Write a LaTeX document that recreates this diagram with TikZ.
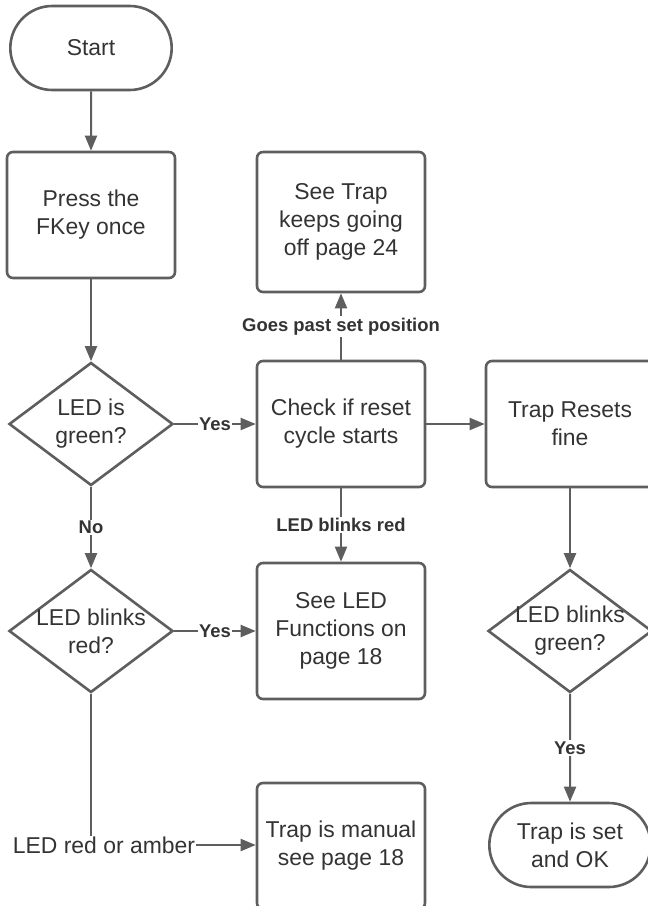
\documentclass[tikz,border=0pt]{standalone}
\usepackage{fontspec}
\setmainfont{Liberation Sans}
\usepackage{tikz}
\usetikzlibrary{shapes.geometric, shapes.misc}
\usetikzlibrary{arrows.meta}

\definecolor{flowline}{RGB}{94,94,94}
\definecolor{flowtext}{RGB}{51,51,51}

\begin{document}
\begin{tikzpicture}[->,>={Triangle[length=15bp,width=12bp]},line width=2bp,
                    color=flowline,x=1bp,y=1bp]
\tikzstyle{every node}=[text=flowtext,font=\fontsize{23}{28}\selectfont,align=center]
\tikzstyle{terminal}=[rounded rectangle,draw=flowline,line width=2.6bp,minimum width=168bp,minimum height=84bp]
\tikzstyle{process}=[rectangle,rounded corners=6bp,draw=flowline,line width=2.6bp,minimum width=168bp,minimum height=126bp]
\tikzstyle{decision}=[diamond,draw=flowline,line width=2.6bp,minimum width=164bp,minimum height=123bp,shape aspect=1.33,inner sep=-5bp]
\tikzstyle{answer}=[fill=white,inner sep=1.5bp,font=\bfseries\fontsize{18.5}{21}\selectfont]

  \useasboundingbox (0,0) rectangle (648,-906);
  \clip (0,0) rectangle (648,-906);

        % left column
        \node[terminal]                                          (start)      at (91,-48)          {Start};
        \node[process, node distance=167bp]                      (press)      [below of=start]     {Press the\\FKey once};
        \node[decision, node distance=209bp]                     (green)      [below of=press]     {LED is\\green?};
        \node[decision, node distance=207bp]                     (red)        [below of=green]     {LED blinks\\red?};
        \node[inner sep=0pt, node distance=214bp, xshift=13bp]   (amber)      [below of=red]       {LED red or amber};

        % middle column
        \node[process, node distance=250bp]                      (check)      [right of=green]     {Check if reset\\cycle starts};
        \node[process, minimum height=140bp, node distance=202bp] (keeps)     [above of=check]     {See Trap\\keeps going\\off page 24};
        \node[process, minimum height=136bp, node distance=250bp] (functions) [right of=red]       {See LED\\Functions on\\page 18};
        \node[process, node distance=215bp]                      (manual)     [below of=functions] {Trap is manual\\see page 18};

        % right column
        \node[process, node distance=229bp]                      (resets)     [right of=check]     {Trap Resets\\fine};
        \node[decision, node distance=207bp]                     (blinkgreen) [below of=resets]    {LED blinks\\green?};
        \node[terminal, node distance=214bp]                     (setok)      [below of=blinkgreen] {Trap is set\\and OK};

        \path[->]
        (start)      edge                                  (press)
        (press)      edge                                  (green)
        (green)      edge node[answer] {Yes}               (check)
        (green)      edge node[answer] {No}                (red)
        (red)        edge node[answer] {Yes}               (functions)
        (red.south)  edge[-]                               (red.south |- amber.north)
        (amber.east) edge                                  (manual.west |- amber.east)
        (check)      edge node[answer] {Goes past set position} (keeps)
        (check)      edge node[answer] {LED blinks red}    (functions)
        (check)      edge                                  (resets)
        (resets)     edge                                  (blinkgreen)
        (blinkgreen) edge node[answer] {Yes}               (setok)
        ; %end path

\end{tikzpicture}
\end{document}
